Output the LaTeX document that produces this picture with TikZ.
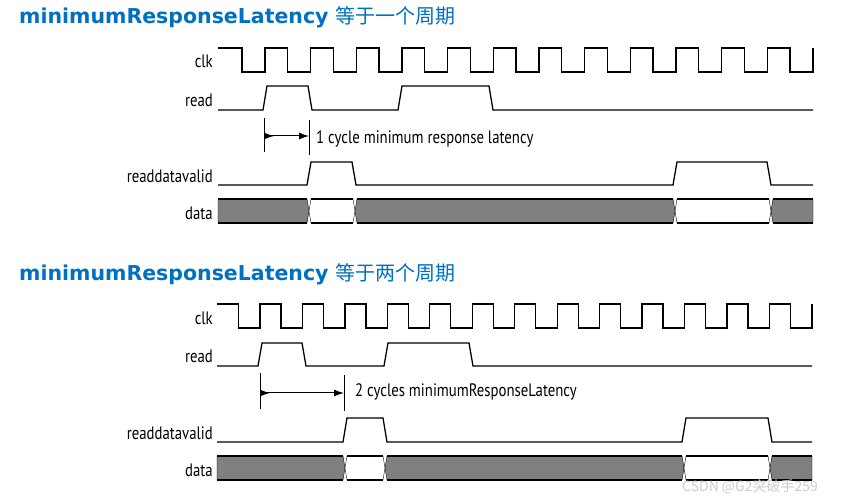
\documentclass[tikz,border=0pt]{standalone}
\usepackage{fontspec}
\usetikzlibrary{arrows.meta}
\newfontfamily\sigfont[FakeStretch=0.82]{PT Sans}
\newfontfamily\headfont{DejaVu Sans}
\newfontfamily\cjk{Noto Sans CJK SC}
\definecolor{headblue}{RGB}{0,112,192}
\definecolor{busgray}{RGB}{128,128,128}
\tikzset{
  wave/.style={line width=1.3pt, line join=miter},
  tick/.style={line width=1pt},
  sig/.style={font=\sigfont\fontsize{18}{20}\selectfont, anchor=base east, inner sep=0pt},
  note/.style={font=\sigfont\fontsize{18}{20}\selectfont, anchor=base west, inner sep=0pt},
  head/.style={font=\headfont\fontsize{20.5}{22}\selectfont, text=headblue, anchor=base west, inner sep=0pt},
  latency/.style={line width=1pt, {Latex[reversed,length=10pt,width=7pt]}-{Latex[length=10pt,width=7pt]}},
}
% one bus segment: x1 x2 x3 x4, top y, bottom y, fill
\newcommand{\busseg}[7]{%
  \path[fill=#7, draw=black, line width=0.4pt] (#1,{(#5+#6)/2}) -- (#2,#5) -- (#3,#5)
    -- (#4,{(#5+#6)/2}) -- (#3,#6) -- (#2,#6) -- cycle;
  \draw[wave] (#2,#5) -- (#3,#5) (#2,#6) -- (#3,#6);}
\begin{document}
\begin{tikzpicture}[x=1pt, y=-1pt]
  \useasboundingbox (0,0) rectangle (844,502);

  % ---- one cycle ----
  \path (19,24) node[head] (headA) {{\bfseries minimumResponseLatency}
    {\cjk\fontsize{20}{22}\selectfont 等于一个周期}};

  \path (213,68) node[sig] (clkA) {clk};
  \path (213,106.5) node[sig] (readA) {read};
  \path (213,183) node[sig] (validA) {readdatavalid};
  \path (213,220) node[sig] (dataA) {data};

  \draw[wave] (218,48) \foreach \k in {0,...,12}{
    -- ({242+45.67*\k},48) -- ++(0,24) -- ({265+45.67*\k},72) -- ++(0,-24)};
  \draw[wave] (218,110) -- (263,110) -- (267,86) -- (308,86) -- (312,110)
    -- (398,110) -- (402,86) -- (489,86) -- (493,110) -- (813,110);
  \draw[wave] (218,185) -- (307,185) -- (311,162) -- (352,162) -- (356,185)
    -- (673,185) -- (677,162) -- (767,162) -- (771,185) -- (813,185);

  \busseg{218}{218}{307}{309}{199}{223}{busgray}
  \busseg{309}{311}{353}{355}{199}{223}{white}
  \busseg{355}{357}{673}{675}{199}{223}{busgray}
  \busseg{675}{677}{769}{771}{199}{223}{white}
  \busseg{771}{773}{813}{813}{199}{223}{busgray}

  \draw[tick] (264,118) -- (264,152);
  \draw[tick] (309,120) -- (309,155);
  \coordinate (cycA0) at (264,136);
  \coordinate (cycA1) at (309,136);
  \draw[latency] (cycA0) -- (cycA1);
  \path (316,144) node[note] (noteA) {1 cycle minimum response latency};

  % ---- two cycles ----
  \path (19,281) node[head] (headB) {{\bfseries minimumResponseLatency}
    {\cjk\fontsize{20}{22}\selectfont 等于两个周期}};

  \path (213,325) node[sig] (clkB) {clk};
  \path (213,363) node[sig] (readB) {read};
  \path (213,440) node[sig] (validB) {readdatavalid};
  \path (213,477) node[sig] (dataB) {data};

  \draw[wave] (217,304) \foreach \k in {0,...,13}{
    -- ({238.5+42.46*\k},304) -- ++(0,24) -- ({260+42.46*\k},328) -- ++(0,-24)};
  \draw[wave] (217,366) -- (258,366) -- (262,343) -- (302,343) -- (306,366)
    -- (384,366) -- (388,343) -- (469,343) -- (473,366) -- (812,366);
  \draw[wave] (217,442) -- (343,442) -- (347,418) -- (383,418) -- (387,442)
    -- (682,442) -- (686,418) -- (768,418) -- (772,442) -- (812,442);

  \busseg{217}{217}{343}{345}{456}{480}{busgray}
  \busseg{345}{347}{383}{385}{456}{480}{white}
  \busseg{385}{387}{682}{684}{456}{480}{busgray}
  \busseg{684}{686}{768}{770}{456}{480}{white}
  \busseg{770}{772}{812}{812}{456}{480}{busgray}

  \draw[tick] (260,373) -- (260,409);
  \draw[tick] (344,375) -- (344,411);
  \coordinate (cycB0) at (260,393);
  \coordinate (cycB1) at (344,393);
  \draw[latency] (cycB0) -- (cycB1);
  \path (355,397) node[note] (noteB) {2 cycles minimumResponseLatency};

  \path (682,492) node[anchor=base west, inner sep=0pt, text=gray!40,
    font=\cjk\fontsize{14}{16}\selectfont] (mark) {CSDN @G2突破手259};
\end{tikzpicture}
\end{document}
